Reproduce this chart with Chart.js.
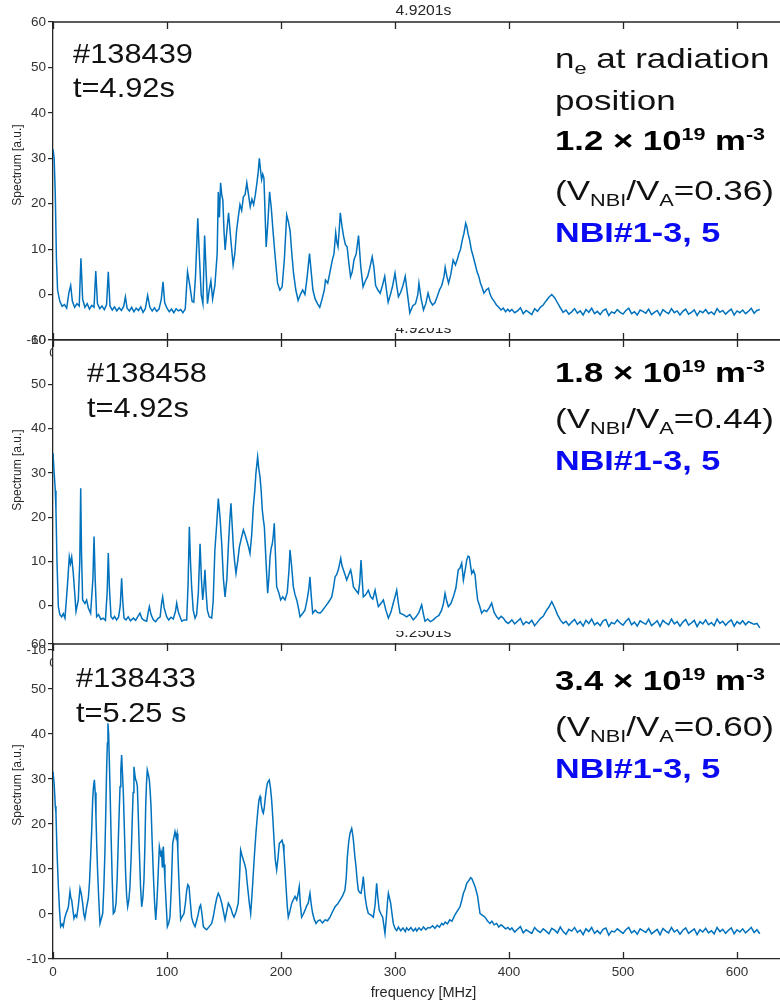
<!DOCTYPE html>
<html>
<head>
<meta charset="utf-8">
<script src="https://cdn.jsdelivr.net/npm/chart.js@4.4.1/dist/chart.umd.min.js"></script>
<style>
  html, body { margin: 0; padding: 0; background: #fff; }
  body { width: 780px; height: 1007px; overflow: hidden; position: relative; }
  canvas { position: absolute; left: 0; }
</style>
</head>
<body>
<canvas id="c1" width="800" height="372" style="top:0px"></canvas>
<canvas id="c2" width="800" height="352" style="top:328px"></canvas>
<canvas id="c3" width="800" height="376" style="top:631px"></canvas>
<script>
let freq1 = [
  0, 1, 2, 3, 4, 6, 8, 10, 12, 14,
  15.5, 17, 19, 21, 23, 24.5, 26, 28, 30, 32,
  34, 36, 37.5, 39, 41, 43, 45, 47, 48.5, 50,
  52, 54, 56, 58, 60, 62, 63.5, 65, 67, 69,
  71, 73, 75, 77, 79, 81, 83, 85, 87, 89,
  91, 93, 95, 96.5, 98, 100, 102, 104, 106, 108,
  110, 112, 114, 116, 118, 120, 122, 123.5, 125, 127,
  128.5, 130, 131.5, 133, 134.5, 135.5, 137, 138.5, 140, 142,
  144, 145, 146, 147, 148, 149, 150, 151, 152.5, 154,
  156, 158, 159.5, 161, 162.5, 164, 165.5, 167, 168.5, 170,
  171.5, 173, 174.5, 176, 177.5, 179, 180, 181, 182, 183,
  184, 185, 186, 187, 188.5, 190, 191.5, 193, 195, 197,
  199, 201, 203, 205, 206.5, 208, 209.5, 211, 213, 215,
  217, 219, 221, 223, 225, 226.5, 228, 230, 232, 234,
  236, 238, 239, 241, 243, 245, 246.5, 248, 249, 250,
  251, 252, 253.5, 255, 256.5, 258, 259.5, 261, 262.5, 264,
  266, 268, 270, 272, 274, 276, 278, 280, 281.5, 283,
  285, 287, 289, 291, 292.5, 294, 296, 298, 300, 301.5,
  303, 305, 307, 309, 311, 313, 315.5, 318, 320, 321,
  323, 325, 327, 329, 331, 333, 335, 337, 339, 341,
  343, 344, 345.5, 347, 349, 351, 353, 355, 356, 357.5,
  359, 360.5, 362, 363, 364, 365.5, 367, 368.5, 370, 372,
  373.5, 375, 376.5, 378, 380, 382, 383.5, 385, 387, 389,
  391, 393, 395, 397, 399, 400.5
];
let spec1 = [
  32, 30, 22, 8, 1, -1.5, -2.6, -2.2, -3.0, 0.5,
  2.0, -1.5, -2.8, -2.0, -2.5, 8.0, -1.0, -2.8, -2.0, -3.2,
  -2.4, -2.8, 5.2, -2.0, -3.1, -2.5, -3.3, -2.2, 5.0, -2.5,
  -3.4, -2.7, -3.6, -2.9, -3.5, -2.6, -0.5, -3.0, -3.6, -2.8,
  -3.8, -3.0, -3.5, -2.7, -3.9, -3.1, -0.2, -2.8, -3.6, -2.9,
  -3.7, -3.2, -1.0, 2.8, -1.8, -3.0, -3.8, -3.2, -4.0, -3.1,
  -3.6, -3.3, -4.0, -3.2, 5.0, 2.0, -1.5, -1.7, 4.0, 16.8,
  8.0, 0.0, -2.0, 13.0, 4.0, -2.0, 1.0, 3.0, -1.0, 2.0,
  9.0, 22.6, 17.0, 24.6, 22.0, 20.8, 14.0, 9.8, 14.0, 18.0,
  12.0, 6.5, 9.0, 14.0, 17.0, 19.8, 18.5, 21.5, 22.0, 24.6,
  22.0, 19.3, 21.0, 19.8, 22.0, 24.8, 27.0, 30.0, 27.5, 25.3,
  26.5, 25.7, 18.0, 10.5, 16.0, 22.6, 19.0, 14.0, 8.0, 2.5,
  1.0, 1.7, 8.0, 17.5, 16.0, 14.0, 9.0, 4.7, 1.0, -1.3,
  0.0, 1.0, 0.0, 4.0, 9.0, 5.0, 1.0, -1.0, -2.0, -2.8,
  -1.0, 1.0, 3.2, 2.5, 5.0, 7.6, 9.0, 13.6, 11.5, 10.5,
  14.0, 18.0, 15.0, 12.7, 11.0, 10.5, 7.0, 3.9, 5.0, 7.6,
  9.0, 13.0, 6.0, 1.7, 3.0, 4.0, 6.0, 8.3, 6.0, 2.0,
  1.0, 0.3, 2.0, 4.0, 1.0, -1.7, 0.0, 2.0, 4.7, 2.0,
  -0.5, 0.5, 2.0, 4.0, 0.0, -4.0, -2.5, -2.0, 0.0, 2.5,
  -1.0, -3.4, -2.0, 0.3, -1.5, -2.3, -1.8, -0.5, 1.0, 2.0,
  4.0, 6.0, 4.0, 2.5, 4.5, 7.6, 6.5, 8.0, 9.0, 10.0,
  12.0, 13.5, 15.7, 15.0, 13.5, 12.0, 9.8, 8.5, 7.0, 5.0,
  4.0, 2.5, 1.5, 0.3, 1.0, 1.4, 0.0, -0.8, -1.5, -2.3,
  -2.8, -3.4, -3.0, -3.8, -3.2, -3.7
];

let freq2 = [
  0, 1, 2, 2.6, 3.5, 4.7, 6, 7.6, 9, 10.5,
  12.6, 14.3, 15.3, 16.4, 17.8, 19, 20.2, 22.2, 23.5, 24.3,
  25, 26, 28, 29.5, 31, 33, 35, 36, 37, 38.3,
  40, 42, 44, 46, 47.5, 48.5, 49.5, 50.9, 52.5, 54,
  55.8, 57.5, 59, 60.2, 61.2, 62.3, 64, 66, 68, 70.5,
  72.5, 74.5, 76.3, 78, 80, 82.2, 83.5, 84.5, 86, 88,
  90, 92, 94, 95.2, 96.2, 97.5, 99.7, 101.5, 103.5, 105.5,
  107.5, 108.5, 110, 112.9, 115, 117.3, 118.5, 119.6, 120.6, 121.6,
  123, 124.6, 126, 127.5, 129, 130.2, 131.3, 132.3, 133.3, 134.3,
  135.4, 137, 139.2, 140.5, 142, 143.5, 145, 146.5, 148, 149.5,
  150.9, 152.5, 153.8, 155, 156.1, 157.2, 158.2, 159.3, 160.5, 162,
  163.5, 165, 167, 168.5, 169.9, 171.3, 172.8, 174.3, 175.7, 177,
  178, 179.5, 180.5, 181.6, 182.6, 183.6, 184.5, 185.4, 186.8, 188.3,
  189.3, 190.4, 191.4, 192.4, 193.3, 194.1, 195.2, 196.2, 198, 199.7,
  201.5, 203.5, 205.5, 207, 207.9, 209.3, 210.8, 212.3, 213.8, 215.3,
  216.7, 218.8, 221, 223, 224.5, 225.4, 226.6, 227.8, 230, 232,
  234.2, 236, 238, 240, 242.2, 244.5, 246, 247.4, 248.8, 250.3,
  252.4, 253.5, 254.7, 256.2, 257.6, 259.4, 261.1, 262.3, 263.5, 265.6,
  267.8, 269, 270.2, 271.2, 272.2, 274.4, 276.6, 278.6, 280.5, 282.5,
  284, 285.4, 287.6, 289.8, 292, 294.2, 296.4, 298.5, 300, 301.5,
  303, 304.4, 307.3, 310.2, 313, 316, 318.5, 321, 323.4, 325,
  326.3, 328.7, 331, 333.6, 336, 338.5, 340.9, 342.5, 343.9, 345.4,
  346.8, 349, 351.2, 353.4, 355.5, 357, 358.5, 360, 361.5, 362.9,
  364.1, 365.2, 366.3, 367.3, 368.8, 370.2, 371.3, 372.5, 374.2, 376,
  378.2, 380.4, 382.6, 384.8, 387, 389.2, 391, 393, 395, 397.2,
  399.4
];
let spec2 = [
  34.5, 30, 26, 21.6, 10, -0.2, -2.0, -2.5, -1.8, -2.8,
  4.3, 11.0, 9.5, 11.0, 7.3, 3.0, -1.3, 1.3, 10.0, 26.5,
  12.0, 1.3, 0.5, 1.3, -0.5, -1.7, 6.0, 15.6, 6.0, -2.5,
  -2.0, -3.1, -2.8, -3.3, 3.0, 11.9, 4.0, -2.5, -3.0, -2.4,
  -3.2, -2.6, 0.0, 6.2, 1.0, -2.8, -3.2, -2.5, -3.4, -2.8,
  -3.3, -2.4, -1.7, -2.9, -3.3, -3.5, -1.5, -0.2, -2.0, -3.2,
  -3.6, -2.9, -2.5, 0.5, 2.0, -0.5, -2.5, -3.2, -2.6, -3.0,
  -1.2, 0.6, -1.5, -3.5, -3.2, -3.2, 5.0, 17.8, 10.0, 4.3,
  -1.0, -2.8, -2.0, 3.0, 14.0, 6.0, 1.3, 4.0, 8.1, 3.0,
  -1.0, -2.5, -2.8, 1.0, 12.6, 18.0, 24.2, 20.0, 14.0, 6.0,
  2.0, 6.0, 13.3, 19.0, 23.1, 18.0, 13.3, 10.0, 7.3, 10.0,
  13.3, 15.0, 17.1, 16.0, 14.8, 13.5, 11.8, 16.0, 22.3, 26.0,
  29.9, 33.6, 31.0, 29.1, 26.0, 21.6, 19.5, 17.8, 10.3, 2.8,
  6.0, 11.0, 13.0, 14.0, 16.0, 18.6, 11.0, 4.3, 3.0, 1.3,
  2.0, 1.3, 3.0, 8.0, 12.6, 9.0, 4.3, 2.5, 1.3, -0.5,
  -2.5, -1.8, -1.0, 1.5, 4.0, 6.5, 2.0, -1.7, -1.0, -1.5,
  -1.7, -1.2, -0.5, 0.2, 1.0, 2.0, 4.0, 6.5, 7.0, 8.1,
  10.7, 9.0, 8.1, 7.0, 5.8, 7.0, 8.1, 6.5, 4.3, 3.5,
  2.8, 5.0, 10.3, 6.0, 2.0, 2.5, 3.5, 2.0, 1.5, 3.5,
  1.5, -0.2, 0.5, 1.3, -1.0, -2.8, -1.5, 0.6, 2.0, 3.5,
  0.5, -1.7, -2.0, -2.5, -2.0, -3.2, -2.5, -1.5, 0.2, -2.0,
  -3.5, -3.0, -3.6, -3.2, -2.6, -2.2, -1.0, 0.5, 2.8, 1.0,
  -0.2, 0.5, 2.0, 4.0, 8.1, 8.5, 9.6, 5.8, 8.0, 10.3,
  11.2, 11.0, 9.0, 7.3, 8.0, 7.0, 4.0, 1.3, 0.0, -1.7,
  -1.0, -1.3, -0.5, 0.6, -1.5, -2.5, -3.0, -2.4, -2.8, -3.6,
  -4.0
];

let freq3 = [
  0, 1, 2, 2.6, 3.5, 4.7, 5.7, 6.7, 8, 9,
  10.2, 11.4, 12.5, 13.5, 14.9, 15.7, 16.4, 17.4, 18.4, 19.6,
  20.8, 22.3, 23.7, 24.8, 26, 27, 28, 29.5, 31, 32,
  33, 34, 34.8, 35.6, 36.3, 37, 37.7, 38.4, 39.2, 40.2,
  41.2, 42.4, 43.6, 44.6, 45.6, 46.4, 47.1, 47.7, 48.2, 48.8,
  49.4, 50.2, 50.9, 51.9, 52.9, 54.1, 55.3, 56.3, 57.3, 58.1,
  58.8, 59.5, 60.2, 61, 61.7, 62.7, 63.7, 64.6, 65.5, 66.5,
  67.5, 68.6, 69.6, 70.3, 71, 71.8, 72.5, 73.2, 74, 74.8,
  75.7, 76.8, 77.8, 78.8, 79.8, 80.6, 81.3, 82, 82.7, 83.6,
  84.5, 85.3, 86, 87, 88, 89, 90.1, 91, 91.8, 92.6,
  93.3, 94, 94.7, 95.3, 95.9, 96.4, 96.8, 97.5, 98.2, 99.3,
  100.3, 101.5, 102.6, 103.8, 105, 106, 107, 108, 108.8, 109.5,
  110.2, 111, 112, 113.5, 114.9, 116.2, 117.3, 118.3, 119.3, 120.5,
  121.6, 123, 124.6, 126, 127.5, 128.5, 129.5, 130.7, 131.9, 133.3,
  134.8, 137, 139.2, 140.7, 142.1, 143.6, 145, 146.5, 148, 149.5,
  150.9, 152.3, 153.8, 155, 156.1, 157.5, 158.8, 160.6, 162.5, 163.6,
  164.6, 165.8, 167, 168.2, 169.3, 170.3, 171.3, 172.4, 173.4, 174.5,
  175.7, 176.8, 178, 179, 180, 180.8, 181.6, 182.3, 183, 183.8,
  184.5, 185.3, 186, 187, 188, 188.9, 189.7, 190.8, 191.8, 192.9,
  193.9, 195, 196.2, 197.4, 198.5, 199.7, 200.9, 201.8, 202.6, 203.5,
  204.4, 205.4, 206.4, 208, 209.4, 210.9, 212.3, 213.8, 215, 216,
  217, 218.1, 219.6, 221, 222.5, 223.9, 225.4, 226.6, 227.8, 229.2,
  230.7, 232.5, 234.2, 236.4, 238.6, 240.8, 243, 245.2, 247.4, 249.6,
  251.8, 254, 256.1, 257.2, 258.2, 259.4, 260.5, 261.3, 262, 262.7,
  263.5, 264.7, 265.8, 266.8, 267.8, 269, 270.2, 271.2, 272.2, 273,
  273.7, 275.2, 276.6, 278.8, 281, 282.5, 283.9, 285, 286.2, 287.7,
  289.2, 290.2, 291.2, 292, 292.7, 293.5, 294.2, 295.2, 296.2, 297.4,
  298.5, 300, 301.5, 303, 305, 307, 309, 310.2, 312, 314,
  316, 318, 319, 321, 323, 325, 327, 329, 330.7, 333,
  335, 337, 339, 341, 342.4, 344, 346, 348, 350, 351.2,
  353, 355, 357, 358.5, 360, 361.5, 362.9, 364, 365.2, 366.3,
  367.3, 368.8, 370.2, 371.4, 372.5, 373.5, 374.6, 376.8, 379, 381,
  383.3, 385, 387, 389.2, 391, 393, 395, 397, 399, 400.9
];
let spec3 = [
  31.6, 29, 24, 22.4, 14, 6.1, 1.0, -2.8, -2.2, -2.8,
  -1.0, 0.1, 0.8, 1.6, 5.0, 3.5, 3.1, 1.0, -1.0, -0.2,
  -0.7, 2.0, 5.7, 4.5, 2.4, 0.0, -1.0, 1.5, 3.5, 7.0,
  12.7, 19.0, 25.3, 28.5, 29.8, 27.0, 21.6, 15.0, 9.0, 3.0,
  -2.1, -1.0, 0.1, 6.0, 14.2, 24.0, 32.7, 38.0, 42.4, 40.0,
  34.2, 26.0, 17.9, 8.0, 0.1, 0.5, 2.4, 8.0, 16.4, 23.0,
  28.3, 32.0, 35.3, 31.0, 26.8, 18.0, 9.0, 4.0, 1.6, 3.0,
  6.1, 13.0, 21.6, 27.0, 32.7, 31.0, 29.8, 29.5, 28.3, 22.0,
  14.2, 6.0, 1.6, 3.5, 7.6, 15.0, 23.8, 29.0, 32.0, 31.0,
  29.8, 27.0, 23.8, 16.0, 9.0, 3.0, -1.3, 2.0, 6.1, 11.0,
  15.0, 14.0, 12.7, 13.5, 10.5, 13.0, 15.0, 11.0, 7.6, 2.0,
  -2.8, -2.0, -0.7, 6.0, 15.7, 17.0, 18.3, 17.0, 17.9, 14.0,
  9.0, 4.0, -1.3, -0.5, 0.1, 2.5, 5.3, 6.5, 6.1, 2.5,
  -0.7, -2.0, -2.8, -1.5, 0.1, 1.5, 2.0, 0.0, -2.8, -3.2,
  -3.5, -2.8, -2.1, -0.5, 1.6, 3.5, 4.6, 3.8, 2.4, 0.5,
  -1.3, 0.5, 2.4, 1.8, 1.2, 0.0, -0.7, 0.5, 2.4, 8.0,
  14.2, 13.0, 12.0, 11.0, 9.8, 7.0, 4.6, 2.0, 0.1, 4.0,
  9.0, 13.5, 17.9, 21.0, 23.8, 25.5, 26.1, 25.0, 23.8, 22.8,
  22.4, 23.5, 25.3, 27.5, 29.0, 29.5, 29.8, 28.0, 25.3, 21.0,
  16.4, 12.0, 9.8, 12.5, 15.7, 16.0, 16.4, 15.5, 13.5, 10.0,
  6.1, 2.0, -0.7, 0.8, 2.4, 3.2, 3.9, 3.1, 4.5, 6.1,
  2.0, -0.7, 0.0, 0.8, 1.8, 2.4, 4.6, 2.0, 0.1, -1.2,
  -2.1, -1.5, -1.3, -2.0, -1.3, -1.5, -0.7, 0.5, 1.6, 2.2,
  3.1, 4.0, 5.3, 8.0, 12.7, 16.0, 17.9, 18.5, 19.0, 18.0,
  16.4, 13.0, 10.5, 7.5, 5.3, 4.8, 4.6, 6.0, 8.3, 6.0,
  3.9, 1.5, 0.1, -0.2, -0.7, 2.0, 6.8, 3.5, 0.8, 0.0,
  -0.7, -2.5, -4.3, -2.0, 0.1, 3.0, 4.6, 3.5, 2.4, 0.0,
  -2.1, -3.2, -3.7, -2.9, -3.7, -3.1, -3.9, -3.1, -3.6, -3.0,
  -3.8, -3.2, -3.8, -3.1, -3.6, -2.9, -3.5, -3.0, -3.1, -2.6,
  -3.2, -2.5, -2.9, -2.1, -2.4, -1.8, -2.2, -1.3, -1.6, -0.9,
  0.0, 0.8, 1.6, 3.0, 4.6, 5.5, 6.8, 7.2, 7.6, 8.1,
  7.9, 7.0, 6.1, 5.0, 3.9, 2.0, 0.1, -0.3, -0.7, -1.5,
  -2.1, -1.6, -2.4, -2.1, -2.9, -2.4, -2.8, -3.3, -3.0, -3.5
];

// flat tail above 400 MHz, same sampling for all three shots
let tailFreq = [
  402.5, 405, 407.5, 410, 412.5, 415, 417.5, 420, 422.5, 425,
  427.5, 430, 432.5, 435, 437.5, 440, 442.5, 445, 447.5, 450,
  452.5, 455, 457.5, 460, 462.5, 465, 467.5, 470, 472.5, 475,
  477.5, 480, 482.5, 485, 487.5, 490, 492.5, 495, 497.5, 500,
  502.5, 505, 507.5, 510, 512.5, 515, 517.5, 520, 522.5, 525,
  527.5, 530, 532.5, 535, 537.5, 540, 542.5, 545, 547.5, 550,
  552.5, 555, 557.5, 560, 562.5, 565, 567.5, 570, 572.5, 575,
  577.5, 580, 582.5, 585, 587.5, 590, 592.5, 595, 597.5, 600,
  602.5, 605, 607.5, 610, 612.5, 615, 617.5, 620
];
let tail1 = [
  -3.3, -4.0, -3.6, -2.9, -4.2, -3.5, -3.9, -4.4, -3.1, -3.7,
  -2.8, -2.3, -1.4, -0.6, 0.0, -0.7, -1.8, -2.9, -3.9, -3.4,
  -4.3, -3.8, -3.1, -4.1, -3.6, -4.5, -3.3, -3.9, -3.0, -4.2,
  -3.7, -4.4, -3.5, -3.2, -4.6, -3.8, -4.1, -3.3, -3.9, -4.3,
  -3.5, -3.0, -4.2, -3.8, -4.5, -3.4, -3.7, -4.1, -3.2, -4.4,
  -3.9, -3.5, -4.6, -3.3, -3.8, -4.2, -3.1, -4.0, -3.6, -4.5,
  -3.7, -3.2, -4.3, -3.9, -3.4, -4.6, -3.6, -4.0, -3.3, -4.2,
  -3.8, -4.4, -3.1, -3.9, -3.5, -4.3, -3.7, -3.2, -4.5, -3.6,
  -4.0, -3.4, -4.2, -3.7, -3.0, -4.1, -3.5, -3.3
];
let tail2 = [
  -3.2, -4.1, -3.5, -2.9, -4.3, -3.6, -4.0, -3.3, -4.5, -3.7,
  -2.9, -2.4, -1.2, -0.3, 0.9, -0.4, -2.0, -3.2, -4.0, -3.5,
  -4.4, -3.7, -3.1, -4.2, -3.6, -4.6, -3.3, -4.0, -3.0, -4.3,
  -3.8, -4.5, -3.4, -3.1, -4.7, -3.8, -4.1, -3.2, -3.9, -4.4,
  -3.5, -2.9, -4.3, -3.7, -4.6, -3.4, -3.8, -4.2, -3.1, -4.5,
  -4.0, -3.4, -4.7, -3.3, -3.9, -4.3, -3.0, -4.1, -3.6, -4.6,
  -3.7, -3.1, -4.4, -3.9, -3.3, -4.7, -3.6, -4.1, -3.2, -4.3,
  -3.8, -4.5, -3.0, -4.0, -3.5, -4.4, -3.7, -3.2, -4.6, -3.6,
  -4.1, -3.4, -4.3, -3.6, -3.9, -4.2, -4.0, -5.0
];
let tail3 = [
  -3.1, -4.0, -3.4, -2.8, -4.2, -3.5, -3.9, -4.3, -3.0, -3.7,
  -4.1, -3.3, -3.8, -4.4, -3.2, -3.6, -4.2, -2.9, -3.9, -4.5,
  -3.4, -3.8, -3.0, -4.1, -3.6, -4.6, -3.3, -3.9, -3.0, -4.3,
  -3.7, -4.4, -3.4, -3.1, -4.7, -3.8, -4.0, -3.3, -3.8, -4.3,
  -3.5, -3.0, -4.2, -3.7, -4.5, -3.3, -3.7, -4.1, -3.2, -4.4,
  -3.9, -3.4, -4.6, -3.2, -3.8, -4.2, -3.0, -4.0, -3.5, -4.5,
  -3.6, -3.1, -4.3, -3.8, -3.3, -4.6, -3.5, -4.0, -3.2, -4.2,
  -3.7, -4.4, -3.0, -3.9, -3.4, -4.3, -3.6, -3.1, -4.4, -3.5,
  -4.0, -3.3, -4.2, -3.6, -3.0, -4.1, -3.5, -4.4
];

let yTicks = [-10, 0, 10, 20, 30, 40, 50, 60];
let xTicks = [0, 100, 200, 300, 400, 500, 600];

let titles = ['4.9201s', '4.9201s', '5.2501s'];
let shots = ['#138439', '#138458', '#138433'];
let times = ['t=4.92s', 't=4.92s', 't=5.25 s'];
let densities = ['1.2', '1.8', '3.4'];
let ratios = ['0.36', '0.44', '0.60'];

const FONT = '"Liberation Sans", Arial, Helvetica, sans-serif';
const lineBlue = '#0072BD';
const axisGrey = '#262626';
const nbiBlue = '#0a0af2';

function runWidth(ctx, runs, size, weight) {
  let w = 0;
  for (const r of runs) {
    ctx.font = weight + ' ' + (r.sub || r.sup ? size * 0.62 : size) + 'px ' + FONT;
    w += ctx.measureText(r.t).width;
  }
  return w;
}

// text with sub/superscripts, optionally stretched sideways
function drawRuns(ctx, runs, x, y, size, weight, color, sx, align) {
  ctx.save();
  ctx.translate(x, y);
  ctx.scale(sx, 1);
  let cx = align === 'center' ? -runWidth(ctx, runs, size, weight) / 2 : 0;
  ctx.fillStyle = color;
  ctx.textAlign = 'left';
  ctx.textBaseline = 'alphabetic';
  for (const r of runs) {
    let s = (r.sub || r.sup) ? size * 0.62 : size;
    ctx.font = weight + ' ' + s + 'px ' + FONT;
    let dy = r.sub ? size * 0.2 : (r.sup ? -size * 0.36 : 0);
    ctx.fillText(r.t, cx, dy);
    cx += ctx.measureText(r.t).width;
  }
  ctx.restore();
}

function makePanel(cfg) {
  if (cfg.freq.length !== cfg.spec.length) {
    throw new Error(cfg.id + ' length mismatch ' + cfg.freq.length + ' vs ' + cfg.spec.length);
  }
  let points = cfg.freq.map((f, i) => ({ x: f, y: cfg.spec[i] }));
  let canvas = document.getElementById(cfg.id);
  let H = canvas.height;

  // white paper under the axes box, so a lower panel hides what sits behind it
  let paper = {
    id: 'paper',
    beforeDraw(chart) {
      let ctx = chart.ctx;
      ctx.save();
      ctx.fillStyle = '#fff';
      ctx.fillRect(52, chart.chartArea.top, chart.width - 52, chart.height - chart.chartArea.top);
      ctx.restore();
    }
  };

  // top edge of the box and inward ticks on top and bottom
  let box = {
    id: 'box',
    afterDatasetsDraw(chart) {
      let ctx = chart.ctx, a = chart.chartArea, x = chart.scales.x;
      ctx.save();
      ctx.strokeStyle = axisGrey;
      ctx.lineWidth = 1.3;
      ctx.beginPath();
      ctx.moveTo(a.left, a.top);
      ctx.lineTo(a.right, a.top);
      xTicks.forEach(v => {
        let px = Math.round(x.getPixelForValue(v)) + 0.5;
        ctx.moveTo(px, a.top);
        ctx.lineTo(px, a.top + 7);
        ctx.moveTo(px, a.bottom);
        ctx.lineTo(px, a.bottom - 7);
      });
      ctx.stroke();
      ctx.restore();
    }
  };

  let labels = {
    id: 'labels',
    afterDraw(chart) {
      let ctx = chart.ctx, a = chart.chartArea, t = cfg.top;
      let midX = (a.left + a.right) / 2;
      drawRuns(ctx, [{ t: cfg.title }], midX, a.top - 7, 14, 'normal', axisGrey, 1.12, 'center');

      ctx.save();
      ctx.translate(18, cfg.yTitle - t);
      ctx.rotate(-Math.PI / 2);
      ctx.fillStyle = axisGrey;
      ctx.font = '12px ' + FONT;
      ctx.textAlign = 'center';
      ctx.textBaseline = 'middle';
      ctx.fillText('Spectrum [a.u.]', 0, 0);
      ctx.restore();

      drawRuns(ctx, [{ t: cfg.shot }], cfg.leftX, cfg.shotY - t, 28, 'normal', '#111', 1.1);
      drawRuns(ctx, [{ t: cfg.time }], cfg.leftX, cfg.timeY - t, 28, 'normal', '#111', 1.1);

      let rx = 555;
      if (cfg.neY) {
        drawRuns(ctx, [{ t: 'n' }, { t: 'e', sub: true }, { t: ' at radiation' }], rx, cfg.neY[0] - t, 28, 'normal', '#111', 1.25);
        drawRuns(ctx, [{ t: 'position' }], rx, cfg.neY[1] - t, 28, 'normal', '#111', 1.25);
      }
      drawRuns(ctx, [{ t: cfg.density + ' \u00d7 10' }, { t: '19', sup: true }, { t: ' m' }, { t: '-3', sup: true }],
        rx, cfg.rightY[0] - t, 28, 'bold', '#000', 1.24);
      drawRuns(ctx, [{ t: '(V' }, { t: 'NBI', sub: true }, { t: '/V' }, { t: 'A', sub: true }, { t: '=' + cfg.ratio + ')' }],
        rx, cfg.rightY[1] - t, 28, 'normal', '#111', 1.25);
      drawRuns(ctx, [{ t: 'NBI#1-3, 5' }], rx, cfg.rightY[2] - t, 28, 'bold', nbiBlue, 1.22);

      if (cfg.xTitle) {
        ctx.save();
        ctx.fillStyle = axisGrey;
        ctx.font = '14.5px ' + FONT;
        ctx.textAlign = 'center';
        ctx.textBaseline = 'middle';
        ctx.fillText('frequency [MHz]', midX, 993 - t);
        ctx.restore();
      }
    }
  };

  return new Chart(canvas, {
    type: 'line',
    data: {
      datasets: [{
        data: points,
        borderColor: lineBlue,
        borderWidth: 1.5,
        pointRadius: 0,
        tension: 0
      }]
    },
    options: {
      responsive: false,
      animation: false,
      events: [],
      layout: { padding: { top: cfg.areaTop - cfg.top, right: 6, bottom: 0, left: 0 } },
      plugins: { legend: { display: false }, tooltip: { enabled: false } },
      scales: {
        x: {
          type: 'linear',
          min: 0,
          max: 650,
          afterBuildTicks: s => { s.ticks = xTicks.map(v => ({ value: v })); },
          afterFit: s => { s.height = H - (cfg.areaBottom - cfg.top); },
          grid: { display: false, drawTicks: false, tickLength: 0 },
          border: { display: true, color: axisGrey, width: 1.3 },
          ticks: { color: '#333', font: { family: FONT, size: 13.5 }, padding: 5, maxRotation: 0 }
        },
        y: {
          min: -10,
          max: 60,
          afterBuildTicks: s => { s.ticks = yTicks.map(v => ({ value: v })); },
          afterFit: s => { s.width = 53; },
          grid: { drawOnChartArea: false, drawTicks: true, tickLength: 5, color: axisGrey, lineWidth: 1.2 },
          border: { display: true, color: axisGrey, width: 1.3 },
          ticks: { color: '#333', font: { family: FONT, size: 13.5 }, padding: 2 }
        }
      }
    },
    plugins: [paper, box, labels]
  });
}

makePanel({
  id: 'c1', top: 0, areaTop: 22, areaBottom: 340,
  freq: freq1.concat(tailFreq), spec: spec1.concat(tail1),
  title: titles[0], shot: shots[0], time: times[0], density: densities[0], ratio: ratios[0],
  leftX: 73, shotY: 63, timeY: 97, yTitle: 165,
  neY: [68, 110], rightY: [150, 200, 242]
});
makePanel({
  id: 'c2', top: 328, areaTop: 340, areaBottom: 650,
  freq: freq2.concat(tailFreq), spec: spec2.concat(tail2),
  title: titles[1], shot: shots[1], time: times[1], density: densities[1], ratio: ratios[1],
  leftX: 87, shotY: 382, timeY: 417, yTitle: 470,
  rightY: [382, 428, 470]
});
makePanel({
  id: 'c3', top: 631, areaTop: 644, areaBottom: 959,
  freq: freq3.concat(tailFreq), spec: spec3.concat(tail3),
  title: titles[2], shot: shots[2], time: times[2], density: densities[2], ratio: ratios[2],
  leftX: 76, shotY: 687, timeY: 722, yTitle: 785,
  rightY: [690, 736, 778], xTitle: true
});
</script>
</body>
</html>
